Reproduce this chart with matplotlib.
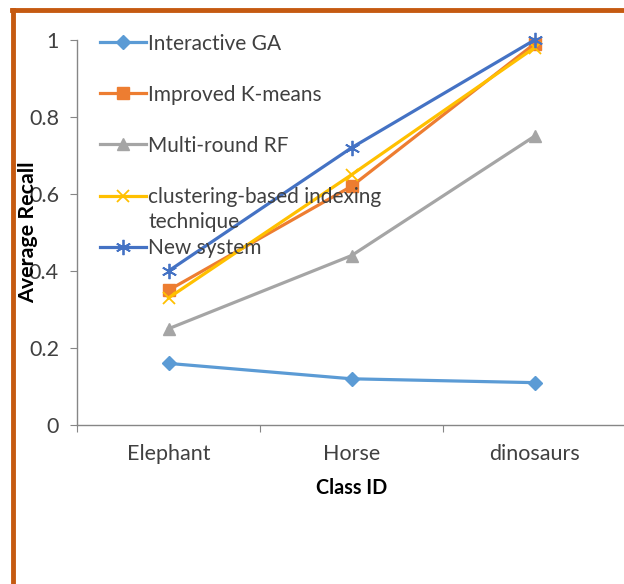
import matplotlib
matplotlib.use("Agg")
import matplotlib.pyplot as plt
from matplotlib.lines import Line2D

plt.rcParams['font.family'] = ['Lato', 'DejaVu Sans']

# data
classes = ['Elephant', 'Horse', 'dinosaurs']
interactive_ga = [0.16, 0.12, 0.11]
improved_kmeans = [0.35, 0.62, 0.99]
multi_round_rf = [0.25, 0.44, 0.75]
clustering_idx = [0.33, 0.65, 0.98]
new_system = [0.40, 0.72, 1.00]

series = [
    ('Interactive GA', interactive_ga, '#5B9BD5', 'D', 7),
    ('Improved K-means', improved_kmeans, '#ED7D31', 's', 8),
    ('Multi-round RF', multi_round_rf, '#A5A5A5', '^', 9),
    ('clustering-based indexing', clustering_idx, '#FFC000', 'x', 9),
    ('New system', new_system, '#4472C4', (6, 2, 0), 11),
]

fig = plt.figure(figsize=(6.24, 5.84), dpi=100)
ax = fig.add_axes([77 / 624, 1 - 425 / 584, 549 / 624, 385 / 584])

x = list(range(len(classes)))
for name, vals, col, mk, ms in series:
    ax.plot(x, vals, color=col, lw=2.3, marker=mk, markersize=ms,
            markeredgecolor=col, markeredgewidth=1.3 if mk in ('x', (6, 2, 0)) else 1,
            label=name, clip_on=False)

ax.set_ylim(0, 1)
ax.set_xlim(-0.5, 2.5)
ax.set_yticks([0, 0.2, 0.4, 0.6, 0.8, 1])
ax.set_yticklabels(['0', '0.2', '0.4', '0.6', '0.8', '1'])
ax.set_xticks([-0.5, 0.5, 1.5, 2.5])
ax.set_xticklabels([])
ax.set_xticks(x, minor=True)
ax.set_xticklabels(classes, minor=True)
ax.tick_params(axis='x', which='minor', length=0, pad=14, labelsize=15.5, colors='#404040')
ax.tick_params(axis='x', which='major', length=5, color='#868686')
ax.tick_params(axis='y', length=5, color='#868686', labelsize=15.5, labelcolor='#404040', pad=8)

for s in ['top', 'right']:
    ax.spines[s].set_visible(False)
for s in ['left', 'bottom']:
    ax.spines[s].set_color('#868686')
    ax.spines[s].set_linewidth(1)

ax.set_ylabel('Average Recall', fontsize=15.4, fontweight='bold')
ax.yaxis.set_label_coords(-0.071, 0.5)
ax.set_xlabel('Class ID', fontsize=14.2, fontweight='bold')
ax.xaxis.set_label_coords(0.5, -0.138)

leg = ax.legend(loc='upper left', bbox_to_anchor=(15 / 549, 1.038), frameon=False,
                fontsize=15, handlelength=2.2, handletextpad=0.1,
                labelspacing=1.49, borderaxespad=0, numpoints=1)
for t in leg.get_texts():
    t.set_color('#404040')

# second line of the wrapped legend label
fig.canvas.draw()
bb = leg.get_texts()[3].get_window_extent()
fig.text(bb.x0 / 624, (bb.y0 - 25) / 584, 'technique', fontsize=15, color='#404040',
         va='bottom', ha='left')

# orange slide frame
frame = '#C55A11'
fig.add_artist(Line2D([13 / 624, 13 / 624], [0, 1 - 10 / 584], color=frame, lw=3.5,
                      transform=fig.transFigure))
fig.add_artist(Line2D([12 / 624, 1], [1 - 10 / 584, 1 - 10 / 584], color=frame, lw=3.5,
                      transform=fig.transFigure))

fig.savefig('out.png', dpi=100)
